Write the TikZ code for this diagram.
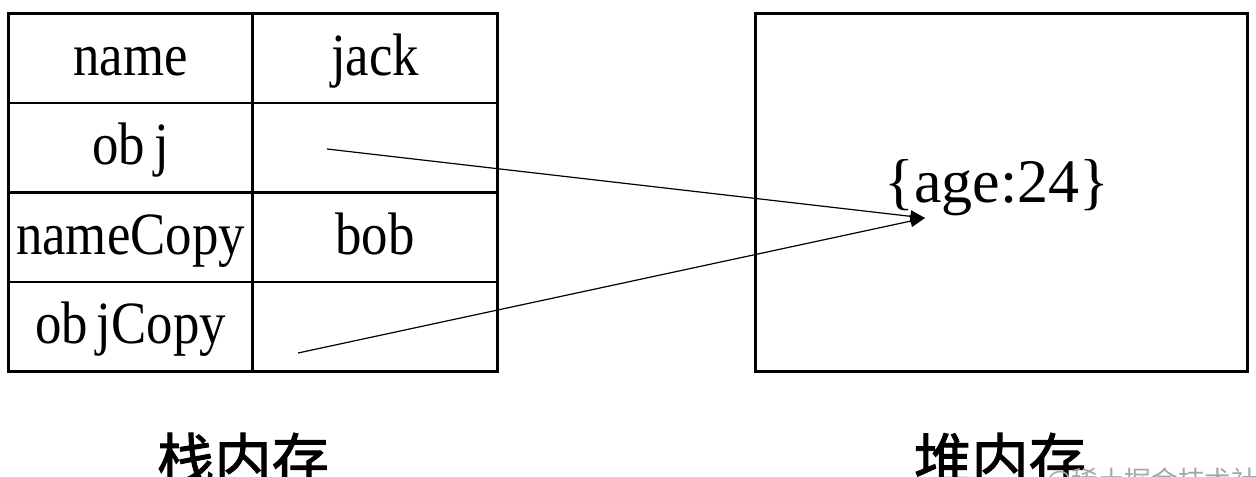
\documentclass[tikz,border=0pt]{standalone}
\usepackage{fontspec}
\setmainfont{Liberation Serif}
\newfontfamily\cellfont[FakeStretch=0.88]{Liberation Serif}
\newfontfamily\cjk[FakeBold=1.6]{Noto Sans CJK SC}
\newfontfamily\cjklight{Noto Sans CJK SC}
\usetikzlibrary{arrows.meta}

\begin{document}
\begin{tikzpicture}[x=0.75pt,y=-0.75pt,
  cell/.style={draw, line width=2.2pt, anchor=north west, inner sep=0pt,
    minimum height=67.125pt, text height=30pt, text depth=4.5pt,
    font=\cellfont\fontsize{45}{45}\selectfont},
  lcell/.style={cell, minimum width=183pt},
  rcell/.style={cell, minimum width=183.75pt},
  heap/.style={draw, line width=2.2pt, anchor=north west, inner sep=0pt,
    minimum width=369pt, minimum height=268.5pt},
  ref/.style={line width=0.9pt, -{Triangle[length=11pt,width=9pt]}},
  caption/.style={anchor=base, inner sep=0pt,
    font=\cjk\fontsize{43}{43}\selectfont},
  wmtext/.style={anchor=base west, inner sep=0pt, text=black!35,
    font=\cjklight\fontsize{20}{20}\selectfont}]

  \fill[white] (0,0) rectangle (1256,476);
  \useasboundingbox (0,0) rectangle (1256,476);

  % stack: variable names and values
  \node[lcell] (n1) at (7,12)    {name};
  \node[rcell] (v1) at (251,12)  {jack};
  \node[lcell] (n2) at (7,101.5) {ob\kern0.15em j};
  \node[rcell] (v2) at (251,101.5) {};
  \node[lcell] (n3) at (7,191)   {nameCopy};
  \node[rcell] (v3) at (251,191) {bob};
  \node[lcell] (n4) at (7,280.5) {ob\kern0.15em jCopy};
  \node[rcell] (v4) at (251,280.5) {};

  % heap object
  \node[heap] (h) at (754,12) {};
  \node[anchor=base, inner sep=0pt, font=\fontsize{46.5}{46.5}\selectfont]
    (obj) at (997,202) {\{age:24\}};

  % references from the stack into the heap
  \coordinate (p1) at (327,149);
  \coordinate (p2) at (298,353);
  \coordinate (tgt) at (925,218);
  \draw[ref] (p1) -- (tgt);
  \draw[ref] (p2) -- (tgt);

  % captions
  \node[caption] (sc) at (243,481) {栈内存};
  \node[caption] (hc) at (1000,481) {堆内存};
  \node[wmtext] (wm) at (1046,490) {@稀土掘金技术社区};
\end{tikzpicture}
\end{document}
